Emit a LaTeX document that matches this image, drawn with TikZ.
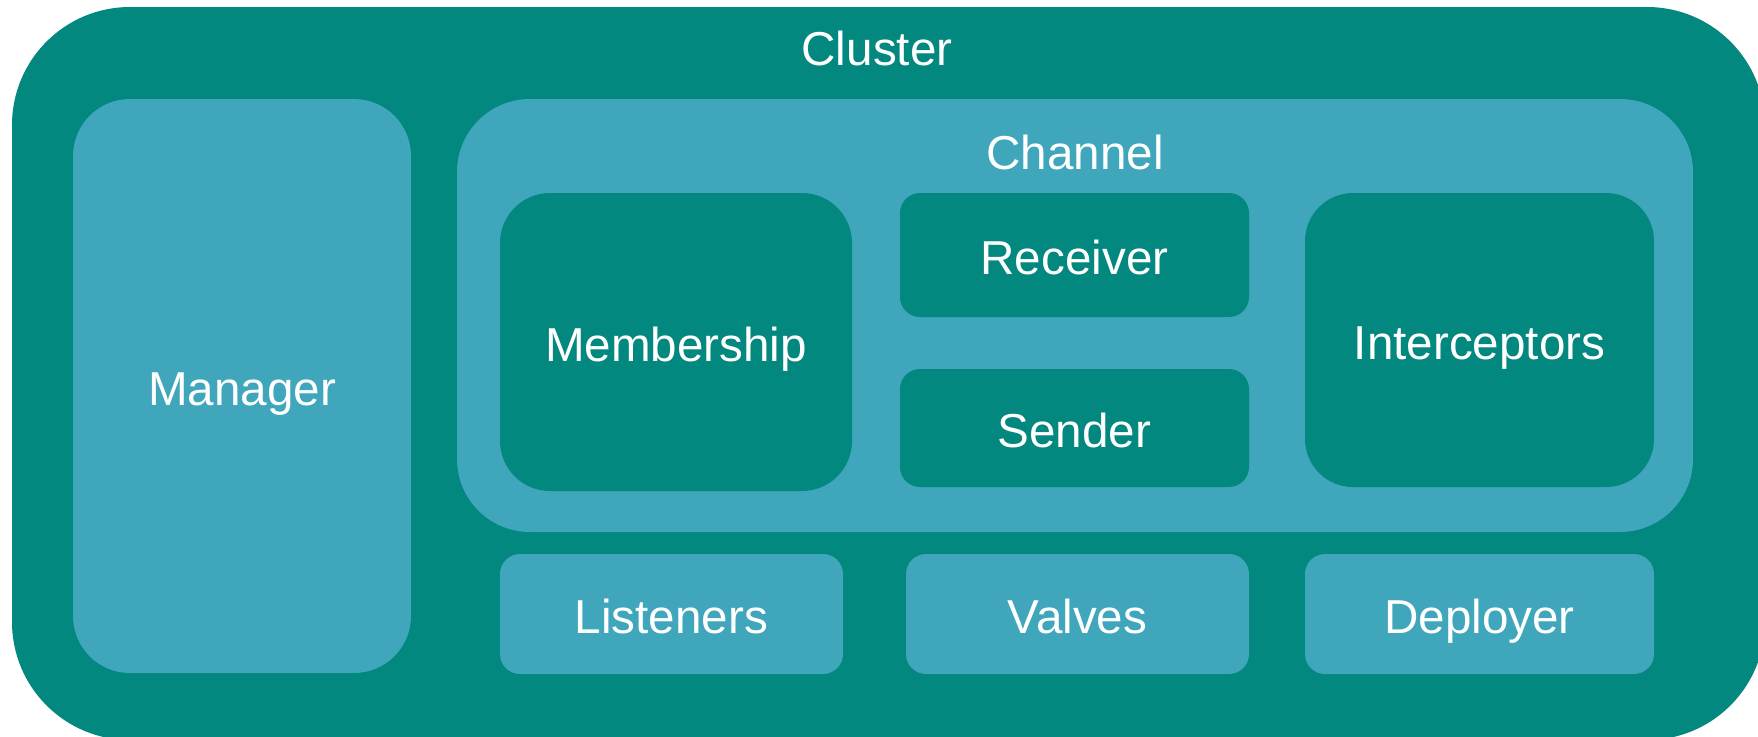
\documentclass[tikz,border=0pt]{standalone}
\usepackage{fontspec}
\setmainfont{Liberation Sans}
\definecolor{deepteal}{RGB}{2,136,126}
\definecolor{paleteal}{RGB}{63,166,188}
\begin{document}
\begin{tikzpicture}[x=0.5pt,y=-0.5pt,
  label font/.style={font=\fontsize{23.8}{28}\selectfont, text=white},
  box/.style={inner sep=0pt, label font, text height=19.5pt, text depth=0pt},
  darkbox/.style={box, fill=deepteal},
  lightbox/.style={box, fill=paleteal},
  title/.style={inner sep=0pt, label font, anchor=base}]
\useasboundingbox (0,0) rectangle (1758,736);
\clip (0,0) rectangle (1758,736);

% outer cluster frame
\node[darkbox, minimum width=876.5pt, minimum height=366.5pt, rounded corners=59pt]
  (cluster) at (888.5,373.5) {};
\node[title] (clustertitle) at (877,65) {Cluster};

% manager column
\node[lightbox, minimum width=169pt, minimum height=287pt, rounded corners=28.5pt]
  (manager) at (242,386) {Manager};

% channel and its parts
\node[lightbox, minimum width=618pt, minimum height=216.5pt, rounded corners=36.5pt]
  (channel) at (1075,315.5) {};
\node[title] (channeltitle) at (1075,169) {Channel};

\node[darkbox, minimum width=176pt, minimum height=149pt, rounded corners=25pt]
  (membership) at (676,342) {Membership};
\node[darkbox, minimum width=174.5pt, minimum height=62pt, rounded corners=10pt]
  (receiver) at (1074.5,255) {Receiver};
\node[darkbox, minimum width=174.5pt, minimum height=59pt, rounded corners=10pt]
  (sender) at (1074.5,428) {Sender};
\node[darkbox, minimum width=174.5pt, minimum height=147pt, rounded corners=24pt]
  (interceptors) at (1479.5,340) {Interceptors};

% bottom row
\node[lightbox, minimum width=171.5pt, minimum height=60pt, rounded corners=10pt]
  (listeners) at (671.5,614) {Listeners};
\node[lightbox, minimum width=171.5pt, minimum height=60pt, rounded corners=10pt]
  (valves) at (1077.5,614) {Valves};
\node[lightbox, minimum width=174.5pt, minimum height=60pt, rounded corners=10pt]
  (deployer) at (1479.5,614) {Deployer};
\end{tikzpicture}
\end{document}
